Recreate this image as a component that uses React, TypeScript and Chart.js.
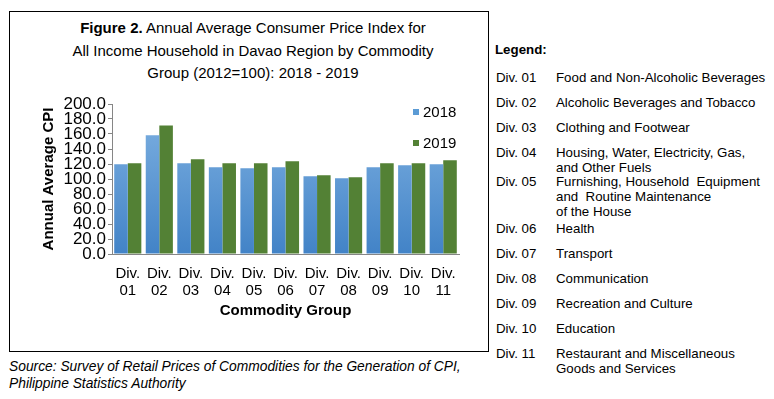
import React, { useEffect, useRef } from "react";
import { Chart, registerables } from "chart.js";

Chart.register(...registerables);

// ---------- data ----------
const divisionCodes = ["01", "02", "03", "04", "05", "06", "07", "08", "09", "10", "11"];
const categoryLabels = divisionCodes.map((d) => ["Div.", d]);
const seriesNames = ["2018", "2019"];
const cpi2018 = [119.6, 158.4, 120.9, 115.6, 114.3, 115.6, 103.7, 101.1, 115.6, 118.3, 119.6];
const cpi2019 = [120.9, 171.3, 126.2, 120.9, 120.9, 123.6, 105.0, 102.4, 120.9, 120.9, 124.9];
const yMin = 0;
const yMax = 200;
const yStep = 20;

const titleBold = "Figure 2.";
const titleRest = [
  " Annual Average Consumer Price Index for",
  "All Income Household in Davao Region by Commodity",
  "Group (2012=100): 2018 - 2019",
];
const yAxisTitle = "Annual Average CPI";
const xAxisTitle = "Commodity Group";

const legendHeading = "Legend:";
const legendCodes = divisionCodes.map((d) => "Div. " + d);
const legendNames = [
  "Food and Non-Alcoholic Beverages",
  "Alcoholic Beverages and Tobacco",
  "Clothing and Footwear",
  "Housing, Water, Electricity, Gas,\nand Other Fuels",
  "Furnishing, Household  Equipment\nand  Routine Maintenance\nof the House",
  "Health",
  "Transport",
  "Communication",
  "Recreation and Culture",
  "Education",
  "Restaurant and Miscellaneous\nGoods and Services",
];
const sourceLines = [
  "Source: Survey of Retail Prices of Commodities for the Generation of CPI,",
  "Philippine Statistics Authority",
];

// ---------- layout / style ----------
const FONT = "'Liberation Sans', Arial, Helvetica, sans-serif";
const legendRowCenters = [77, 102, 127, 152, 181, 228, 253, 278, 303, 328, 353];
const blueSolid = "#5b9bd5";
const greenSolid = "#538135";

const seriesLegendPlugin = {
  id: "seriesLegend",
  afterDraw(chart: any) {
    const { ctx, chartArea } = chart;
    ctx.save();
    ctx.font = `15px ${FONT}`;
    ctx.textBaseline = "middle";
    ctx.textAlign = "left";
    const colors = [blueSolid, greenSolid];
    chart.data.datasets.forEach((ds: any, i: number) => {
      const x = chartArea.right - 46;
      const y = chartArea.top + 8 + i * 31;
      ctx.fillStyle = colors[i];
      ctx.fillRect(x, y - 3, 6, 6);
      ctx.fillStyle = "#000";
      ctx.fillText(ds.label, x + 10, y + 1);
    });
    ctx.restore();
  },
};

export default function App() {
  const canvasRef = useRef<HTMLCanvasElement | null>(null);

  useEffect(() => {
    if (!canvasRef.current) return;
    const blueGradient = (c: any) => {
      const chart = c.chart;
      const area = chart.chartArea;
      if (!area) return blueSolid;
      const g = chart.ctx.createLinearGradient(0, area.top, 0, area.bottom);
      g.addColorStop(0, "#80b2e2");
      g.addColorStop(1, "#4283c7");
      return g;
    };
    const chart = new Chart(canvasRef.current, {
      type: "bar",
      data: {
        labels: categoryLabels,
        datasets: [
          {
            label: seriesNames[0],
            data: cpi2018,
            backgroundColor: blueGradient,
            borderWidth: 0,
            categoryPercentage: 0.86,
            barPercentage: 1.0,
          },
          {
            label: seriesNames[1],
            data: cpi2019,
            backgroundColor: greenSolid,
            borderWidth: 0,
            categoryPercentage: 0.86,
            barPercentage: 1.0,
          },
        ],
      },
      options: {
        responsive: false,
        animation: false,
        events: [],
        layout: { padding: { left: 0, right: 27, top: 16, bottom: 0 } },
        plugins: {
          legend: { display: false },
          tooltip: { enabled: false },
          title: { display: false },
        },
        scales: {
          x: {
            grid: { display: false, drawTicks: false },
            border: { display: true, color: "#868686", width: 1 },
            ticks: {
              color: "#000",
              font: { size: 15, family: FONT, lineHeight: 1.1 },
              padding: 12,
              maxRotation: 0,
              autoSkip: false,
            },
            title: {
              display: true,
              text: xAxisTitle,
              color: "#000",
              font: { size: 15, weight: "bold", family: FONT, lineHeight: 1.2 },
              padding: { top: 0, bottom: 30 },
            },
            afterFit: (s: any) => {
              s.height = 96;
            },
          },
          y: {
            min: yMin,
            max: yMax,
            ticks: {
              stepSize: yStep,
              color: "#000",
              font: { size: 17, family: FONT },
              padding: 2,
              autoSkip: false,
              callback: (v: any) => Number(v).toFixed(1),
            },
            grid: {
              display: true,
              drawOnChartArea: false,
              drawTicks: true,
              tickLength: 4,
              color: "#868686",
            },
            border: { display: true, color: "#868686", width: 1 },
            title: {
              display: true,
              text: yAxisTitle,
              color: "#000",
              font: { size: 15, weight: "bold", family: FONT, lineHeight: 1.2 },
              padding: { top: 30, bottom: 0 },
            },
            afterFit: (s: any) => {
              s.width = 102;
            },
          },
        },
      },
      plugins: [seriesLegendPlugin],
    } as any);
    return () => chart.destroy();
  }, []);

  return (
    <div
      style={{
        position: "fixed",
        left: 0,
        top: 0,
        width: 774,
        height: 399,
        background: "#fff",
        fontFamily: FONT,
        color: "#000",
        overflow: "hidden",
      }}
    >
      <div
        style={{
          position: "absolute",
          left: 9,
          top: 11,
          width: 480,
          height: 341,
          border: "1px solid #000",
          boxSizing: "border-box",
        }}
      />
      <div
        style={{
          position: "absolute",
          left: 13,
          top: 17,
          width: 480,
          textAlign: "center",
          fontSize: 15,
          lineHeight: "22.5px",
        }}
      >
        <div>
          <b>{titleBold}</b>
          {titleRest[0]}
        </div>
        <div>{titleRest[1]}</div>
        <div>{titleRest[2]}</div>
      </div>
      <canvas
        ref={canvasRef}
        width={476}
        height={262}
        style={{ position: "absolute", left: 10, top: 88, width: 476, height: 262 }}
      />
      <div
        style={{
          position: "absolute",
          left: 495,
          top: 42,
          fontSize: 13.3,
          lineHeight: "15px",
          fontWeight: "bold",
        }}
      >
        {legendHeading}
      </div>
      {legendCodes.map((code, i) => (
        <React.Fragment key={code}>
          <div
            style={{
              position: "absolute",
              left: 496,
              top: legendRowCenters[i] - 7.5,
              fontSize: 13.3,
              lineHeight: "15px",
            }}
          >
            {code}
          </div>
          <div
            style={{
              position: "absolute",
              left: 556,
              top: legendRowCenters[i] - 7.5,
              fontSize: 13.3,
              lineHeight: "15px",
              whiteSpace: "pre",
            }}
          >
            {legendNames[i]}
          </div>
        </React.Fragment>
      ))}
      <div
        style={{
          position: "absolute",
          left: 9,
          top: 358,
          fontSize: 13.8,
          lineHeight: "17px",
          fontStyle: "italic",
          whiteSpace: "pre",
        }}
      >
        {sourceLines.map((l) => (
          <div key={l}>{l}</div>
        ))}
      </div>
    </div>
  );
}
